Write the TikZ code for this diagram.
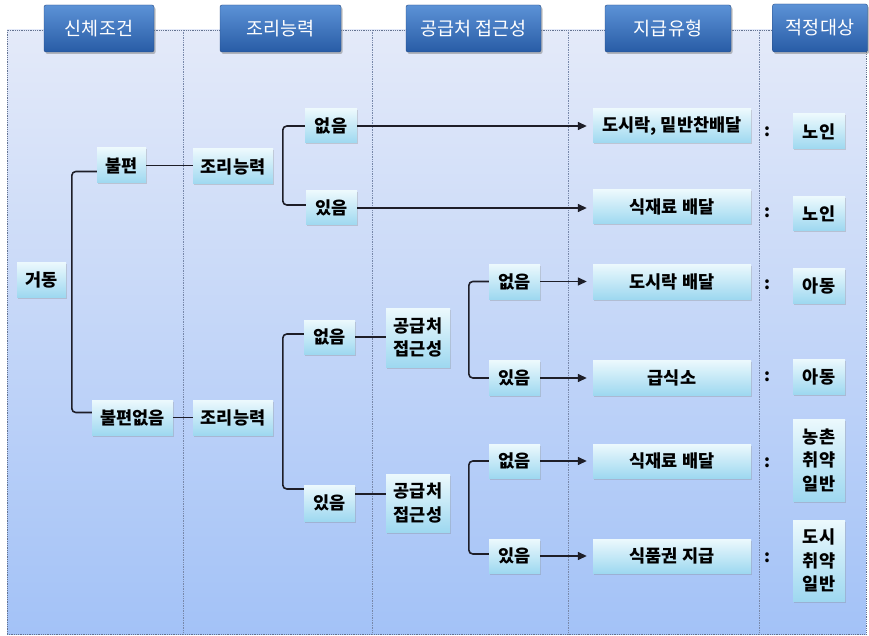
\documentclass[tikz,border=0pt]{standalone}
\usepackage{fontspec}
\setmainfont{Noto Sans CJK KR}
\usetikzlibrary{arrows.meta,shadows}
\definecolor{bgtop}{RGB}{228,234,249}
\definecolor{bgbot}{RGB}{163,194,247}
\definecolor{ntop}{RGB}{236,249,253}
\definecolor{nbot}{RGB}{158,216,240}
\definecolor{htop}{RGB}{92,146,214}
\definecolor{hbot}{RGB}{40,92,166}
\definecolor{hborder}{RGB}{38,74,130}
\definecolor{lnc}{RGB}{30,30,40}
\definecolor{divc}{RGB}{120,136,170}
\definecolor{framec}{RGB}{100,115,145}
\begin{document}
\begin{tikzpicture}[x=1pt,y=-1pt,
  sz/.style 2 args={minimum width=#1, minimum height=#2},
  bgrect/.style={inner sep=0pt, top color=bgtop, bottom color=bgbot, draw=framec, densely dotted, line width=0.8pt},
  divider/.style={draw=divc, densely dotted, line width=0.7pt},
  nbox/.style={inner sep=0pt, top color=ntop, bottom color=nbot, align=center,
    font=\bfseries\fontsize{17.5}{23.5}\selectfont,
    drop shadow={shadow xshift=1pt, shadow yshift=-1.5pt, opacity=0.3}},
  hbox/.style={inner sep=0pt, rounded corners=2pt, top color=htop, bottom color=hbot, draw=hborder,
    text=white, font=\fontsize{18.5}{22}\selectfont,
    drop shadow={shadow xshift=1.5pt, shadow yshift=-2pt, opacity=0.5}},
  colon/.style={inner sep=0pt, font=\bfseries\fontsize{17}{20}\selectfont},
  conn/.style={draw=lnc, line width=1.6pt, rounded corners=4pt},
  arr/.style={draw=lnc, line width=1.4pt, -{Triangle[length=9pt,width=8pt]}, shorten >=6pt}
]
\useasboundingbox (0,0) rectangle (869,636);
% background frame
\node[bgrect, sz={859pt}{604pt}] (bg) at (436.5,332) {};
% column dividers
\draw[divider] (183,30) -- (183,634);
\draw[divider] (372,30) -- (372,634);
\draw[divider] (568,30) -- (568,634);
\draw[divider] (759,30) -- (759,634);
% headers
\node[hbox, sz={110pt}{47pt}] (h1) at (99,28.5) {신체조건};
\node[hbox, sz={121pt}{47pt}] (h2) at (280.5,28.5) {조리능력};
\node[hbox, sz={135pt}{47pt}] (h3) at (473.5,28.5) {공급처 접근성};
\node[hbox, sz={126pt}{47pt}] (h4) at (668,28.5) {지급유형};
\node[hbox, sz={95pt}{48pt}] (h5) at (820,28) {적정대상};
% column 1
\node[nbox, sz={49pt}{35pt}] (move) at (41.5,279.5) {거동};
\node[nbox, sz={49pt}{35pt}] (bp) at (121.5,165.5) {불편};
\node[nbox, sz={81pt}{35pt}] (bpn) at (132.5,417.5) {불편없음};
% column 2
\node[nbox, sz={80pt}{35pt}] (cook1) at (233,166.5) {조리능력};
\node[nbox, sz={80pt}{35pt}] (cook2) at (233,417.5) {조리능력};
\node[nbox, sz={52pt}{34pt}] (e1) at (331,126) {없음};
\node[nbox, sz={51pt}{34pt}] (i1) at (331.5,208) {있음};
\node[nbox, sz={51pt}{34pt}] (e2) at (329.5,337) {없음};
\node[nbox, sz={51pt}{36pt}] (i2) at (329.5,503) {있음};
% column 3
\node[nbox, sz={64pt}{59pt}] (acc1) at (418,337.5) {공급처\\접근성};
\node[nbox, sz={64pt}{58pt}] (acc2) at (418,503) {공급처\\접근성};
\node[nbox, sz={51pt}{35pt}] (e3) at (514.5,281.5) {없음};
\node[nbox, sz={51pt}{35pt}] (i3) at (514.5,378) {있음};
\node[nbox, sz={51pt}{34pt}] (e4) at (514.5,461) {없음};
\node[nbox, sz={51pt}{34pt}] (i4) at (514.5,556) {있음};
% column 4
\node[nbox, sz={158pt}{34pt}] (r1) at (672,126) {도시락, 밑반찬배달};
\node[nbox, sz={158pt}{34pt}] (r2) at (672,207) {식재료 배달};
\node[nbox, sz={158pt}{35pt}] (r3) at (672,281.5) {도시락 배달};
\node[nbox, sz={158pt}{35pt}] (r4) at (672,377.5) {급식소};
\node[nbox, sz={158pt}{34pt}] (r5) at (672,461) {식재료 배달};
\node[nbox, sz={158pt}{34pt}] (r6) at (672,556) {식품권 지급};
% colons
\node[colon] (c1) at (767,132) {:};
\node[colon] (c2) at (767,213) {:};
\node[colon] (c3) at (767,285) {:};
\node[colon] (c4) at (767,377) {:};
\node[colon] (c5) at (767,463) {:};
\node[colon] (c6) at (767,558) {:};
% column 5
\node[nbox, sz={52pt}{35pt}] (t1) at (819,131.5) {노인};
\node[nbox, sz={52pt}{34pt}] (t2) at (819,213.5) {노인};
\node[nbox, sz={52pt}{35pt}] (t3) at (819,285.5) {아동};
\node[nbox, sz={52pt}{35pt}] (t4) at (819,376.5) {아동};
\node[nbox, sz={52pt}{82pt}] (t5) at (819,460) {농촌\\취약\\일반};
\node[nbox, sz={52pt}{81pt}] (t6) at (819,560.5) {도시\\취약\\일반};
% brackets
\draw[conn] ([yshift=-6pt]bp.west) -- ++(-25,0) |- ([yshift=5pt]bpn.west);
\draw[conn] (e1.west) -- ++(-22,0) |- ([yshift=3pt]i1.west);
\draw[conn] ([yshift=3pt]e2.west) -- ++(-21,0) |- ([yshift=14pt]i2.west);
\draw[conn] (e3.west) -- ++(-20,0) |- (i3.west);
\draw[conn] (e4.west) -- ++(-20,0) |- ([yshift=2pt]i4.west);
% straight links
\draw[conn] (bp.east) -- (cook1.west |- bp.east);
\draw[conn] (bpn.east) -- (cook2.west);
\draw[conn] (e2.east) -- (acc1.west |- e2.east);
\draw[conn] ([yshift=9pt]i2.east) -- ([yshift=9pt]acc2.west);
% arrows
\draw[arr] (e1.east) -- (e1.east -| r1.west);
\draw[arr] (i1.east) -- (i1.east -| r2.west);
\draw[arr] (e3.east) -- (e3.east -| r3.west);
\draw[arr] (i3.east) -- (i3.east -| r4.west);
\draw[arr] (e4.east) -- (e4.east -| r5.west);
\draw[arr] (i4.east) -- (i4.east -| r6.west);
\end{tikzpicture}
\end{document}
